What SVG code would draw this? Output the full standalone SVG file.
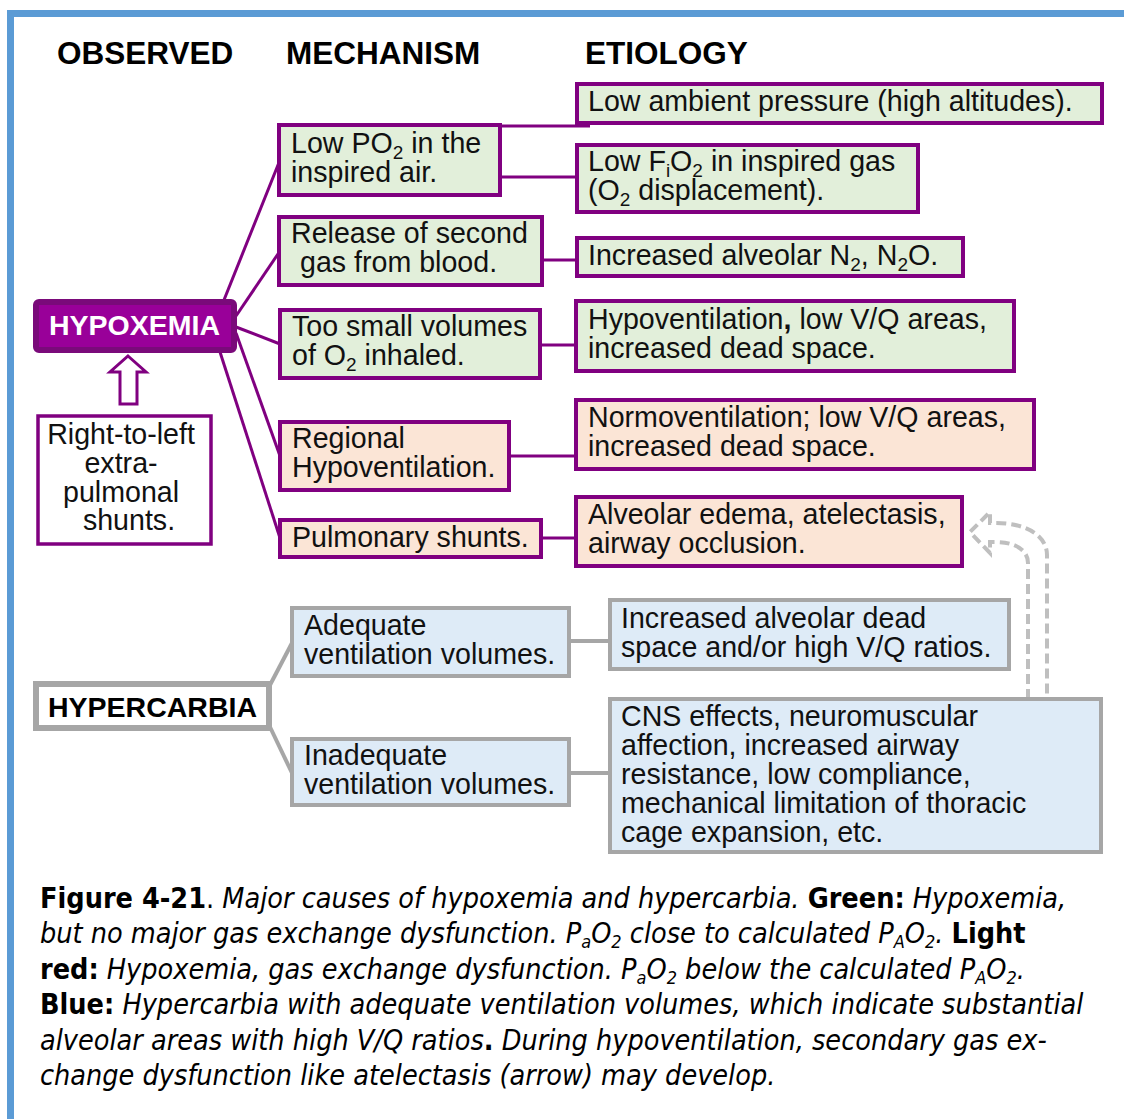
<svg xmlns="http://www.w3.org/2000/svg" width="1124" height="1119" viewBox="0 0 1124 1119">
  <style>
    .body { font-family: "Liberation Sans", Arial, sans-serif; font-size: 28.6px; fill: #111; }
    .head { font-family: "Liberation Sans", Arial, sans-serif; font-size: 31.5px; font-weight: bold; fill: #000; }
    .sub { font-size: 19px; }
    .green { fill: #e2efda; stroke: #800080; stroke-width: 4; }
    .red { fill: #fbe5d6; stroke: #800080; stroke-width: 4; }
    .blue { fill: #deebf7; stroke: #a6a6a6; stroke-width: 4; }
    .plink { stroke: #800080; stroke-width: 3; fill: none; }
    .glink { stroke: #a6a6a6; stroke-width: 4; fill: none; }
    .cap { font-family: "DejaVu Sans Condensed", "DejaVu Sans", sans-serif; font-stretch: condensed; font-size: 28.5px; fill: #000; }
    .b { font-weight: bold; font-style: normal; }
    .i { font-style: italic; }
    .csub { font-size: 18px; }
  </style>

  <!-- page frame -->
  <rect x="7" y="10" width="1117" height="7" fill="#5b9bd5"/>
  <rect x="7" y="10" width="7" height="1109" fill="#5b9bd5"/>

  <!-- column headings -->
  <text class="head" x="57" y="64">OBSERVED</text>
  <text class="head" x="286" y="64">MECHANISM</text>
  <text class="head" x="585" y="64">ETIOLOGY</text>

  <!-- connectors -->
  <g id="connectors">
    <line class="plink" x1="224" y1="300" x2="280" y2="160"/>
    <line class="plink" x1="236" y1="316" x2="280" y2="251"/>
    <line class="plink" x1="236" y1="327" x2="280" y2="344"/>
    <line class="plink" x1="236" y1="333" x2="280" y2="456"/>
    <line class="plink" x1="220" y1="352" x2="280" y2="538"/>
    <line class="plink" x1="500" y1="126" x2="590" y2="126"/>
    <line class="plink" x1="500" y1="177" x2="577" y2="177"/>
    <line class="plink" x1="542" y1="260" x2="577" y2="260"/>
    <line class="plink" x1="540" y1="345" x2="576" y2="345"/>
    <line class="plink" x1="509" y1="456" x2="576" y2="456"/>
    <line class="plink" x1="541" y1="538" x2="576" y2="538"/>
    <line class="glink" x1="270" y1="685" x2="292" y2="643"/>
    <line class="glink" x1="270" y1="727" x2="292" y2="773"/>
    <line class="glink" x1="569" y1="641" x2="610" y2="641"/>
    <line class="glink" x1="569" y1="773" x2="610" y2="773"/>
    <!-- hollow arrow: extra-pulmonary shunts feed hypoxemia -->
    <polygon points="128,356 146,372 137,372 137,404 120,404 120,372 110,372" fill="#fff" stroke="#800080" stroke-width="3"/>
    <!-- dashed hollow arrow: hypoventilation leading to atelectasis -->
    <path d="M1028,699 L1028,563 C1028,550 1015,542 995,542 L990,542 L990,553 L970,532 L990,512 L990,523 L995,523 C1030,523 1047,538 1047,555 L1047,699" fill="none" stroke="#bfbfbf" stroke-width="4" stroke-dasharray="10,5"/>
  </g>

  <!-- observed -->
  <g id="hypoxemia">
    <rect x="36" y="302" width="198" height="48" rx="3" fill="#990099" stroke="#7a0a7a" stroke-width="6"/>
    <text x="49" y="335" font-family="Liberation Sans, Arial, sans-serif" font-size="28.5" font-weight="bold" fill="#fff">HYPOXEMIA</text>
  </g>
  <g id="extrapulmonary-shunts">
    <rect x="38" y="416" width="173" height="128" fill="#fff" stroke="#800080" stroke-width="3.5"/>
    <text class="body" text-anchor="middle">
      <tspan x="125" y="444">Right-to-left</tspan>
      <tspan x="125" y="473">extra-</tspan>
      <tspan x="125" y="502">pulmonal</tspan>
      <tspan x="129" y="530">shunts.</tspan>
    </text>
  </g>
  <g id="hypercarbia">
    <rect x="36" y="684" width="233" height="44" fill="#fff" stroke="#a6a6a6" stroke-width="6"/>
    <text x="48" y="717" font-family="Liberation Sans, Arial, sans-serif" font-size="28.5" font-weight="bold" fill="#000">HYPERCARBIA</text>
  </g>

  <!-- mechanisms -->
  <g id="low-po2">
    <rect class="green" x="279" y="125" width="221" height="70"/>
    <text class="body"><tspan x="291" y="153">Low PO</tspan><tspan class="sub" dy="6">2</tspan><tspan dy="-6"> in the</tspan><tspan x="291" y="182">inspired air.</tspan></text>
  </g>
  <g id="second-gas">
    <rect class="green" x="279" y="217" width="263" height="68"/>
    <text class="body"><tspan x="291" y="243">Release of second</tspan><tspan x="300" y="272">gas from blood.</tspan></text>
  </g>
  <g id="small-volumes">
    <rect class="green" x="280" y="310" width="260" height="68"/>
    <text class="body"><tspan x="292" y="336">Too small volumes</tspan><tspan x="292" y="365">of O</tspan><tspan class="sub" dy="6">2</tspan><tspan dy="-6"> inhaled.</tspan></text>
  </g>
  <g id="regional-hypoventilation">
    <rect class="red" x="280" y="422" width="229" height="68"/>
    <text class="body"><tspan x="292" y="448">Regional</tspan><tspan x="292" y="477">Hypoventilation.</tspan></text>
  </g>
  <g id="pulmonary-shunts">
    <rect class="red" x="280" y="520" width="261" height="37"/>
    <text class="body" x="292" y="547">Pulmonary shunts.</text>
  </g>
  <g id="adequate-ventilation">
    <rect class="blue" x="292" y="608" width="277" height="68"/>
    <text class="body"><tspan x="304" y="635">Adequate</tspan><tspan x="304" y="664">ventilation volumes.</tspan></text>
  </g>
  <g id="inadequate-ventilation">
    <rect class="blue" x="292" y="739" width="277" height="66"/>
    <text class="body"><tspan x="304" y="765">Inadequate</tspan><tspan x="304" y="794">ventilation volumes.</tspan></text>
  </g>

  <!-- etiologies -->
  <g id="ambient-pressure">
    <rect class="green" x="577" y="84" width="525" height="39"/>
    <text class="body" x="588" y="111">Low ambient pressure (high altitudes).</text>
  </g>
  <g id="low-fio2">
    <rect class="green" x="577" y="145" width="341" height="67"/>
    <text class="body"><tspan x="588" y="171">Low F</tspan><tspan class="sub" dy="6">i</tspan><tspan dy="-6">O</tspan><tspan class="sub" dy="6">2</tspan><tspan dy="-6"> in inspired gas</tspan><tspan x="588" y="200">(O</tspan><tspan class="sub" dy="6">2</tspan><tspan dy="-6"> displacement).</tspan></text>
  </g>
  <g id="alveolar-n2">
    <rect class="green" x="577" y="238" width="386" height="38"/>
    <text class="body"><tspan x="588" y="265">Increased alveolar N</tspan><tspan class="sub" dy="6">2</tspan><tspan dy="-6">, N</tspan><tspan class="sub" dy="6">2</tspan><tspan dy="-6">O.</tspan></text>
  </g>
  <g id="hypoventilation-vq">
    <rect class="green" x="576" y="301" width="438" height="70"/>
    <text class="body"><tspan x="588" y="329">Hypoventilation<tspan font-weight="bold">,</tspan> low V/Q areas,</tspan><tspan x="588" y="358">increased dead space.</tspan></text>
  </g>
  <g id="normoventilation-vq">
    <rect class="red" x="576" y="400" width="458" height="69"/>
    <text class="body"><tspan x="588" y="427">Normoventilation; low V/Q areas,</tspan><tspan x="588" y="456">increased dead space.</tspan></text>
  </g>
  <g id="alveolar-edema">
    <rect class="red" x="576" y="497" width="386" height="69"/>
    <text class="body"><tspan x="588" y="524">Alveolar edema, atelectasis,</tspan><tspan x="588" y="553">airway occlusion.</tspan></text>
  </g>
  <g id="dead-space-high-vq">
    <rect class="blue" x="610" y="600" width="399" height="69"/>
    <text class="body"><tspan x="621" y="628">Increased alveolar dead</tspan><tspan x="621" y="657">space and/or high V/Q ratios.</tspan></text>
  </g>
  <g id="cns-effects">
    <rect class="blue" x="610" y="699" width="491" height="153"/>
    <text class="body">
      <tspan x="621" y="726">CNS effects, neuromuscular</tspan>
      <tspan x="621" y="755">affection, increased airway</tspan>
      <tspan x="621" y="784">resistance, low compliance,</tspan>
      <tspan x="621" y="813">mechanical limitation of thoracic</tspan>
      <tspan x="621" y="842">cage expansion, etc.</tspan>
    </text>
  </g>

  <!-- caption -->
  <g id="caption" class="cap">
    <text x="40" y="908"><tspan class="b">Figure 4-21</tspan>. <tspan class="i">Major causes of hypoxemia and hypercarbia.</tspan> <tspan class="b">Green:</tspan> <tspan class="i">Hypoxemia,</tspan></text>
    <text x="40" y="943" class="i">but no major gas exchange dysfunction. P<tspan class="csub" dy="5">a</tspan><tspan dy="-5">O</tspan><tspan class="csub" dy="5">2</tspan><tspan dy="-5"> close to calculated P</tspan><tspan class="csub" dy="5">A</tspan><tspan dy="-5">O</tspan><tspan class="csub" dy="5">2</tspan><tspan dy="-5">.</tspan> <tspan class="b">Light</tspan></text>
    <text x="40" y="979"><tspan class="b">red:</tspan> <tspan class="i">Hypoxemia, gas exchange dysfunction. P<tspan class="csub" dy="5">a</tspan><tspan dy="-5">O</tspan><tspan class="csub" dy="5">2</tspan><tspan dy="-5"> below the calculated P</tspan><tspan class="csub" dy="5">A</tspan><tspan dy="-5">O</tspan><tspan class="csub" dy="5">2</tspan><tspan dy="-5">.</tspan></tspan></text>
    <text x="40" y="1014"><tspan class="b">Blue:</tspan> <tspan class="i">Hypercarbia with adequate ventilation volumes, which indicate substantial</tspan></text>
    <text x="40" y="1050"><tspan class="i">alveolar areas with high V/Q ratios</tspan><tspan class="b">.</tspan> <tspan class="i">During hypoventilation, secondary gas ex-</tspan></text>
    <text x="40" y="1085" class="i">change dysfunction like atelectasis (arrow) may develop.</text>
  </g>
</svg>
